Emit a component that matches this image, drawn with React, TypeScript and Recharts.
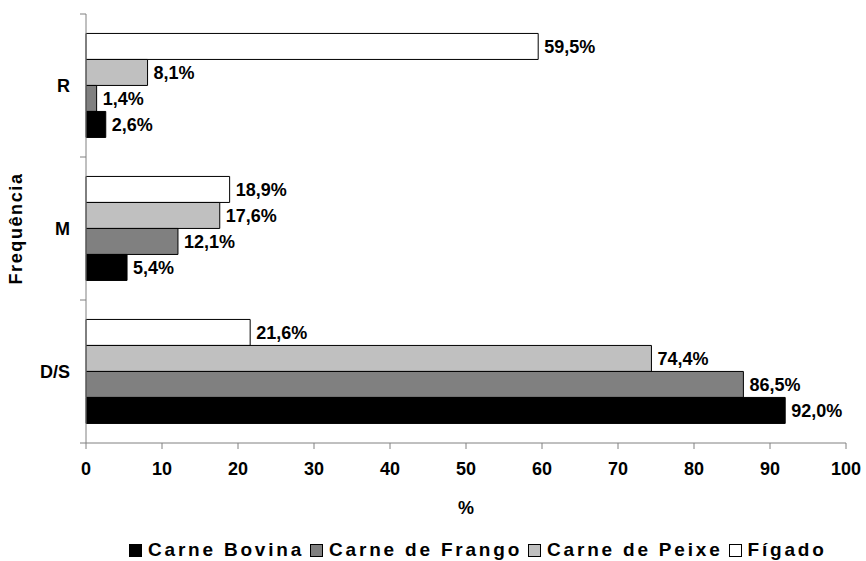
import React from 'react';
import { BarChart, Bar, XAxis, YAxis, LabelList } from 'recharts';

const categories = ['R', 'M', 'D/S'];
const bovina = [2.6, 5.4, 92.0];
const frango = [1.4, 12.1, 86.5];
const peixe = [8.1, 17.6, 74.4];
const figado = [59.5, 18.9, 21.6];
const xTicks = [0, 10, 20, 30, 40, 50, 60, 70, 80, 90, 100];

const series = [
  { key: 'figado', name: 'Fígado', color: '#ffffff' },
  { key: 'peixe', name: 'Carne de Peixe', color: '#c0c0c0' },
  { key: 'frango', name: 'Carne de Frango', color: '#808080' },
  { key: 'bovina', name: 'Carne Bovina', color: '#000000' },
];
const legendOrder = ['bovina', 'frango', 'peixe', 'figado'];

const data = categories.map((cat, i) => ({
  cat,
  bovina: bovina[i],
  frango: frango[i],
  peixe: peixe[i],
  figado: figado[i],
}));

const FONT = '"Liberation Sans", Arial, sans-serif';
const AXIS = '#808080';

const fmt = (v: any) => Number(v).toFixed(1).replace('.', ',') + '%';

function CatTick(props: any) {
  const { x, y, payload, index } = props;
  const off = payload.offset || 0;
  return (
    <g>
      <line x1={x - 6} x2={x} y1={y - off} y2={y - off} stroke={AXIS} />
      {index === categories.length - 1 && (
        <line x1={x - 6} x2={x} y1={y + off} y2={y + off} stroke={AXIS} />
      )}
      <text x={x - 16} y={y} dy="0.355em" textAnchor="end" fontFamily={FONT} fontWeight="bold" fontSize={18} fill="#000">
        {payload.value}
      </text>
    </g>
  );
}

export default function App() {
  return (
    <div style={{ position: 'absolute', left: 0, top: 0, width: 866, height: 561, background: '#fff' }}>
      <BarChart
        width={866}
        height={561}
        data={data}
        layout="vertical"
        margin={{ top: 14, right: 20, left: 0, bottom: 0 }}
        barCategoryGap="13.6%"
        barGap={0}
      >
        <XAxis
          type="number"
          domain={[0, 100]}
          ticks={xTicks}
          height={118}
          tickSize={6}
          tickMargin={13}
          stroke={AXIS}
          tick={{ fill: '#000', fontFamily: FONT, fontWeight: 'bold', fontSize: 18 }}
          label={{ value: '%', position: 'insideBottom', offset: 47, fill: '#000', fontFamily: FONT, fontWeight: 'bold', fontSize: 18 }}
        />
        <YAxis
          type="category"
          dataKey="cat"
          width={86}
          tickSize={0}
          tickMargin={0}
          tickLine={false}
          stroke={AXIS}
          tick={<CatTick />}
          label={{ value: 'Frequência', angle: -90, position: 'insideLeft', offset: 16, fill: '#000', fontFamily: FONT, fontWeight: 'bold', fontSize: 18, style: { letterSpacing: 1.6, textAnchor: 'middle' } }}
        />
        {series.map(s => (
          <Bar key={s.key} dataKey={s.key} name={s.name} fill={s.color} stroke="#000" strokeWidth={1} isAnimationActive={false}>
            <LabelList dataKey={s.key} position="right" offset={6} formatter={fmt} fill="#000" fontFamily={FONT} fontWeight="bold" fontSize={18} />
          </Bar>
        ))}
      </BarChart>
      <div style={{ position: 'absolute', left: 129, top: 539, display: 'flex', alignItems: 'center', fontFamily: FONT, fontWeight: 'bold', fontSize: 19, letterSpacing: 2.8, whiteSpace: 'nowrap' }}>
        {legendOrder.map(k => {
          const s = series.find(x => x.key === k)!;
          return (
            <div key={k} style={{ display: 'flex', alignItems: 'center', marginRight: 6 }}>
              <span style={{ display: 'inline-block', width: 11, height: 11, background: s.color, border: '1px solid #000', marginRight: 6 }} />
              <span>{s.name}</span>
            </div>
          );
        })}
      </div>
    </div>
  );
}
